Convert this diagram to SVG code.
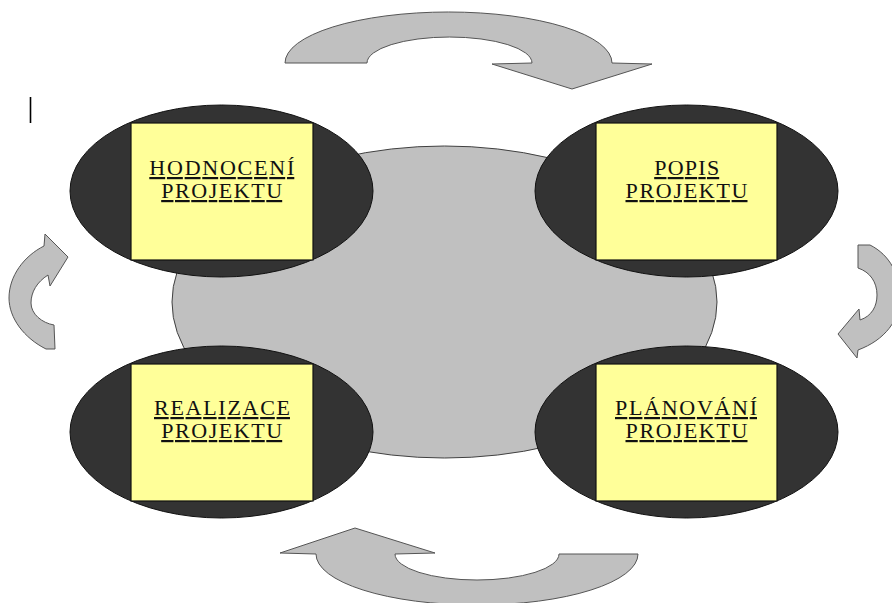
<svg xmlns="http://www.w3.org/2000/svg" width="892" height="603" viewBox="0 0 892 603">
<style>
.bg{fill:#c0c0c0;stroke:#404040;stroke-width:1}
.oval{fill:#333333;stroke:#111;stroke-width:1}
.box{fill:#ffff99;stroke:#111;stroke-width:1.2}
.lbl{font-family:"Liberation Serif","Times New Roman",serif;font-size:22px;fill:#111;text-anchor:middle;text-decoration:underline}
.arr{fill:#c0c0c0;stroke:#555;stroke-width:1;stroke-linejoin:miter}
</style>
<rect width="892" height="603" fill="#ffffff"/>
<line x1="30.5" y1="97" x2="30.5" y2="123" stroke="#000" stroke-width="1.6"/>
<ellipse id="center" class="bg" cx="444.5" cy="302" rx="272.5" ry="156"/>
<g id="connectors">
<path id="arrow-top" class="arr" d="M 285,63 A 163.5 51 0 0 1 612,63 L 652,64 L 572,89 L 492,64 L 532,63 A 82.5 26 0 0 0 367,63 Z"/>
<path id="arrow-right" class="arr" d="M 858,245 L 870,245 C 890,255 900,275 900,297 C 900,320 885,340 858,350 L 857,358 L 838,334 L 859,309 L 860,320 C 872,316 877,306 877,295 C 877,282 870,272 858,268 Z"/>
<path id="arrow-bottom" class="arr" d="M 316,554 A 161 51 0 0 0 638,554 L 559,554 A 82 26 0 0 1 395,554 L 435,553 L 355,528 L 280,553 Z"/>
<path id="arrow-left" class="arr" d="M 46,349 L 55,349 L 54,325 C 42,323 31,314 31,303 C 31,292 37,282 48,275 L 50,286 L 68,257 L 45,234 L 44,246 C 24,256 9,276 9,298 C 9,318 24,338 46,349 Z"/>
</g>
<g id="node-hodnoceni">
<ellipse class="oval" cx="221.5" cy="191" rx="151.5" ry="86"/>
<rect class="box" x="131" y="123" width="182" height="137"/>
<text class="lbl" x="221.8" y="175" textLength="145" lengthAdjust="spacing">HODNOCENÍ</text>
<text class="lbl" x="221.7" y="198" textLength="121" lengthAdjust="spacing">PROJEKTU</text>
</g>
<g id="node-popis">
<ellipse class="oval" cx="686.5" cy="191" rx="151.5" ry="86"/>
<rect class="box" x="596" y="123" width="181" height="137"/>
<text class="lbl" x="686.7" y="175" textLength="65" lengthAdjust="spacing">POPIS</text>
<text class="lbl" x="686.5" y="198" textLength="122" lengthAdjust="spacing">PROJEKTU</text>
</g>
<g id="node-realizace">
<ellipse class="oval" cx="221.5" cy="432" rx="151.5" ry="86"/>
<rect class="box" x="131" y="364" width="182" height="137"/>
<text class="lbl" x="222" y="415" textLength="136" lengthAdjust="spacing">REALIZACE</text>
<text class="lbl" x="221.7" y="438" textLength="121" lengthAdjust="spacing">PROJEKTU</text>
</g>
<g id="node-planovani">
<ellipse class="oval" cx="686.5" cy="432" rx="151.5" ry="86"/>
<rect class="box" x="596" y="364" width="181" height="137"/>
<text class="lbl" x="686" y="415" textLength="142" lengthAdjust="spacing">PLÁNOVÁNÍ</text>
<text class="lbl" x="686.5" y="438" textLength="122" lengthAdjust="spacing">PROJEKTU</text>
</g>
</svg>
